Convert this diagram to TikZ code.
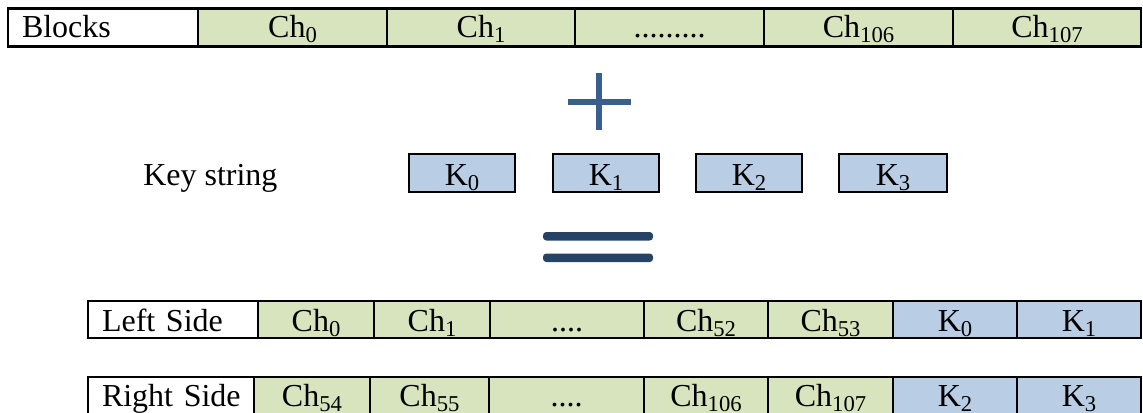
\documentclass[tikz,border=0pt]{standalone}
\usepackage{fontspec}
\setmainfont{Liberation Serif}
\definecolor{chfill}{HTML}{D7E4BD}
\definecolor{kfill}{HTML}{B9CDE5}
\definecolor{plusblue}{HTML}{3B5F8C}
\definecolor{eqblue}{HTML}{264264}
% lowered, smaller index after a letter
\newcommand\idx[1]{\raisebox{-4pt}{\fontsize{17}{17}\selectfont #1}}
% cell node spanning x1..x2, y1..y2 (pixel units)
\newcommand\cellat[7]{\node[#1, minimum width={(#4-#3)*0.75pt}, minimum height={(#6-#5)*0.75pt}] (#2) at ({(#3+#4)/2},{(#5+#6)/2}) {#7};}
% left aligned heading cell
\newcommand\headat[7]{\node[#1, text width={(#4-#3-28)*0.75pt}, align=left, minimum height={(#6-#5)*0.75pt}] (#2) at ({(#3+#4)/2},{(#5+#6)/2}) {\mbox{#7}};}
\tikzset{
  cell/.style={draw=black, line width=1.7pt, inner sep=0pt, outer sep=0pt,
    font=\fontsize{24}{24}\selectfont, text height=19pt, text depth=1pt},
  toprow/.style={text height=17pt, text depth=2pt},
  head/.style={cell, fill=white, inner xsep=10.5pt},
  chcell/.style={cell, fill=chfill},
  kcell/.style={cell, fill=kfill},
}
\begin{document}
\begin{tikzpicture}[x=0.75pt, y=-0.75pt]
\useasboundingbox (0,0) rectangle (1143,412);
\clip (0,0) rectangle (1143,412);

% input blocks
\headat{head, toprow}{blk}{8}{198}{8.5}{46.5}{Blocks}
\cellat{chcell, toprow}{b0}{198}{387}{8.5}{46.5}{Ch\idx{0}}
\cellat{chcell, toprow}{b1}{387}{575}{8.5}{46.5}{Ch\idx{1}}
\cellat{chcell, toprow}{bd}{575}{764}{8.5}{46.5}{.........}
\cellat{chcell, toprow}{b106}{764}{953}{8.5}{46.5}{Ch\idx{106}}
\cellat{chcell, toprow}{b107}{953}{1141}{8.5}{46.5}{Ch\idx{107}}

% plus sign
\draw[plusblue, line width=3.8pt] (599,73) -- (599,130) (568,102) -- (631,102);

% key string
\node[anchor=base west, inner sep=0pt, font=\fontsize{24}{24}\selectfont] (keylbl) at (143,185) {Key string};
\cellat{kcell}{k0}{409}{515}{154}{192}{K\idx{0}}
\cellat{kcell}{k1}{553}{659}{154}{192}{K\idx{1}}
\cellat{kcell}{k2}{696}{802}{154}{192}{K\idx{2}}
\cellat{kcell}{k3}{839}{947}{154}{192}{K\idx{3}}

% equals sign
\fill[eqblue, rounded corners=2.5pt] (543,232) rectangle (653,240.5);
\fill[eqblue, rounded corners=2.5pt] (543,253.5) rectangle (653,262);

% left side
\headat{head}{ls}{88}{258}{301}{338}{Left Side}
\cellat{chcell}{l0}{258}{374}{301}{338}{Ch\idx{0}}
\cellat{chcell}{l1}{374}{490}{301}{338}{Ch\idx{1}}
\cellat{chcell}{ld}{490}{644}{301}{338}{....}
\cellat{chcell}{l52}{644}{768}{301}{338}{Ch\idx{52}}
\cellat{chcell}{l53}{768}{893}{301}{338}{Ch\idx{53}}
\cellat{kcell}{lk0}{893}{1017}{301}{338}{K\idx{0}}
\cellat{kcell}{lk1}{1017}{1141}{301}{338}{K\idx{1}}

% right side
\headat{head, toprow}{rs}{88}{254}{377}{415}{Right Side}
\cellat{chcell, toprow}{r54}{254}{370}{377}{415}{Ch\idx{54}}
\cellat{chcell, toprow}{r55}{370}{489}{377}{415}{Ch\idx{55}}
\cellat{chcell, toprow}{rd}{489}{644}{377}{415}{....}
\cellat{chcell, toprow}{r106}{644}{768}{377}{415}{Ch\idx{106}}
\cellat{chcell, toprow}{r107}{768}{893}{377}{415}{Ch\idx{107}}
\cellat{kcell, toprow}{rk2}{893}{1017}{377}{415}{K\idx{2}}
\cellat{kcell, toprow}{rk3}{1017}{1141}{377}{415}{K\idx{3}}
\end{tikzpicture}
\end{document}
